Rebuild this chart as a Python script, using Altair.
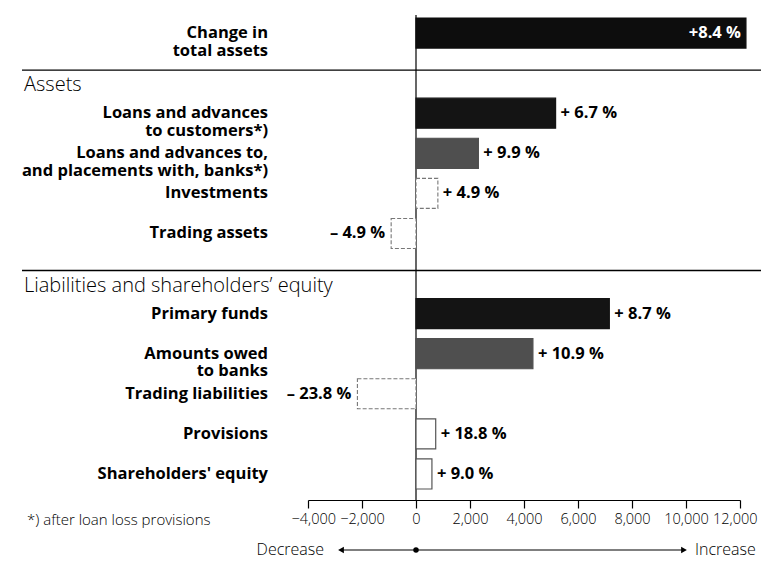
import altair as alt
import pandas as pd

# ---- data ----
row_keys = ["total", "h_assets", "loans_cust", "loans_banks", "investments", "trading_assets",
            "h_liab", "primary", "owed_banks", "trading_liab", "provisions", "equity"]

label_keys = ["total", "loans_cust", "loans_banks", "investments", "trading_assets",
              "primary", "owed_banks", "trading_liab", "provisions", "equity"]
label_texts = ["Change in\ntotal assets", "Loans and advances\nto customers*)",
               "Loans and advances to,\nand placements with, banks*)", "Investments",
               "Trading assets", "Primary funds", "Amounts owed\nto banks",
               "Trading liabilities", "Provisions", "Shareholders' equity"]

header_keys = ["h_assets", "h_liab"]
header_texts = ["Assets", "Liabilities and shareholders\u2019 equity"]

bar_values = [12220, 5170, 2310, 810, -920, 7160, 4330, -2170, 730, 590]
pct_labels = ["+8.4 %", "+ 6.7 %", "+ 9.9 %", "+ 4.9 %", "\u2013 4.9 %", "+ 8.7 %",
              "+ 10.9 %", "\u2013 23.8 %", "+ 18.8 %", "+ 9.0 %"]
bar_kind = ["total", "major", "banks", "minor_dashed", "minor_dashed", "major", "banks",
            "minor_dashed", "minor", "minor"]

tick_values = [-4000, -2000, 0, 2000, 4000, 6000, 8000, 10000, 12000]
footnote = "*) after loan loss provisions"

bars = pd.DataFrame({"key": label_keys, "value": bar_values, "pct": pct_labels, "kind": bar_kind})
labels = pd.DataFrame({"key": label_keys, "label": label_texts})
headers = pd.DataFrame({"key": header_keys, "label": header_texts})

FONT = "Open Sans"

kind_domain = ["total", "major", "banks", "minor", "minor_dashed"]
fill_range = ["#0d0d0d", "#141414", "#4f4f4f", "#ffffff", "#ffffff"]
stroke_range = ["#0d0d0d", "#141414", "#4f4f4f", "#555555", "#777777"]

yenc = alt.Y("key:N", sort=row_keys,
             scale=alt.Scale(domain=row_keys, paddingInner=0.25, paddingOuter=0.125),
             axis=None)
xaxis = alt.Axis(values=tick_values, labelExpr="format(datum.value, ',')", title=None,
                 grid=False, offset=6,
                 tickSize=8, tickColor="#000", domainColor="#000", tickWidth=1.2, domainWidth=1.2,
                 labelFont=FONT, labelFontSize=14.5, labelFontWeight=300, labelColor="#000",
                 labelPadding=4, labelFlush=True, labelFlushOffset=17, labelOverlap=False,
                 labelBound=False)
xscale = alt.Scale(domain=[-4000, 12000], nice=False, zero=False)
xenc = alt.X("value:Q", scale=xscale, axis=xaxis)

fill_enc = alt.Fill("kind:N", scale=alt.Scale(domain=kind_domain, range=fill_range), legend=None)
stroke_enc = alt.Stroke("kind:N", scale=alt.Scale(domain=kind_domain, range=stroke_range), legend=None)

bar_solid = alt.Chart(bars).transform_filter(alt.datum.kind != "minor_dashed").mark_bar(
    strokeWidth=1.2, clip=False).encode(
    x=xenc, x2=alt.datum(0), y=yenc, fill=fill_enc, stroke=stroke_enc)
bar_dashed = alt.Chart(bars).transform_filter(alt.datum.kind == "minor_dashed").mark_bar(
    strokeWidth=1.1, strokeDash=[4, 2], clip=False).encode(
    x=xenc, x2=alt.datum(0), y=yenc, fill=fill_enc, stroke=stroke_enc)

txt_common = dict(font=FONT, fontSize=16.5, fontWeight="bold", baseline="middle")
pct_inside = alt.Chart(bars).transform_filter(alt.datum.kind == "total").mark_text(
    align="right", dx=-5, color="white", **txt_common).encode(x=xenc, y=yenc, text="pct:N")
pct_pos = alt.Chart(bars).transform_filter(
    (alt.datum.kind != "total") & (alt.datum.value > 0)).mark_text(
    align="left", dx=5, color="black", **txt_common).encode(x=xenc, y=yenc, text="pct:N")
pct_neg = alt.Chart(bars).transform_filter(alt.datum.value < 0).mark_text(
    align="right", dx=-6, color="black", **txt_common).encode(x=xenc, y=yenc, text="pct:N")

row_labels = alt.Chart(labels).mark_text(
    align="right", lineBreak="\n", lineHeight=17.5, color="black", **txt_common).encode(
    x=alt.value(-40), y=yenc, text="label:N")

header_lbl = alt.Chart(headers).mark_text(
    align="left", baseline="alphabetic", dy=18, font=FONT, fontSize=20, fontWeight=300,
    color="black").encode(x=alt.value(-284), y=yenc, text="label:N")

separators = alt.Chart(headers).mark_rule(color="black", strokeWidth=1.4, yOffset=-3).encode(
    x=alt.value(-286), x2=alt.value(453), y=yenc)

zero_df = pd.DataFrame({"value": [0]})
zero_line = alt.Chart(zero_df).mark_rule(color="black", strokeWidth=1.2).encode(
    x=xenc, y=alt.value(2), y2=alt.value(487))

one = pd.DataFrame({"d": [0]})
foot = alt.Chart(pd.DataFrame({"t": [footnote]})).mark_text(
    align="left", baseline="middle", font=FONT, fontSize=15, fontWeight=300, color="black").encode(
    x=alt.value(-281), y=alt.value(507), text="t:N")

arrow_y = 537
arrow_line = alt.Chart(one).mark_rule(color="black", strokeWidth=1.2).encode(
    x=alt.value(32), x2=alt.value(377), y=alt.value(arrow_y))
arrow_left = alt.Chart(one).mark_point(shape="triangle-left", filled=True, size=45, color="black",
                                       opacity=1).encode(x=alt.value(33), y=alt.value(arrow_y))
arrow_right = alt.Chart(one).mark_point(shape="triangle-right", filled=True, size=45, color="black",
                                        opacity=1).encode(x=alt.value(376), y=alt.value(arrow_y))
arrow_dot = alt.Chart(zero_df).mark_point(shape="circle", filled=True, size=30, color="black",
                                          opacity=1).encode(x=xenc, y=alt.value(arrow_y))
dec_txt = alt.Chart(pd.DataFrame({"t": ["Decrease"]})).mark_text(
    align="right", baseline="middle", font=FONT, fontSize=16, fontWeight=300, color="black").encode(
    x=alt.value(16), y=alt.value(arrow_y), text="t:N")
inc_txt = alt.Chart(pd.DataFrame({"t": ["Increase"]})).mark_text(
    align="left", baseline="middle", font=FONT, fontSize=16, fontWeight=300, color="black").encode(
    x=alt.value(387), y=alt.value(arrow_y), text="t:N")

chart = alt.layer(
    separators, zero_line, bar_solid, bar_dashed, pct_inside, pct_pos, pct_neg,
    row_labels, header_lbl, foot, arrow_line, arrow_left, arrow_right, arrow_dot, dec_txt, inc_txt
).properties(
    width=432, height=481,
    padding={"left": 300, "top": 5, "right": 21, "bottom": 67},
    autosize=alt.AutoSizeParams(type="none"),
).configure_view(stroke=None)

chart.save("out.html", embed_options={"renderer": "svg", "actions": False})
